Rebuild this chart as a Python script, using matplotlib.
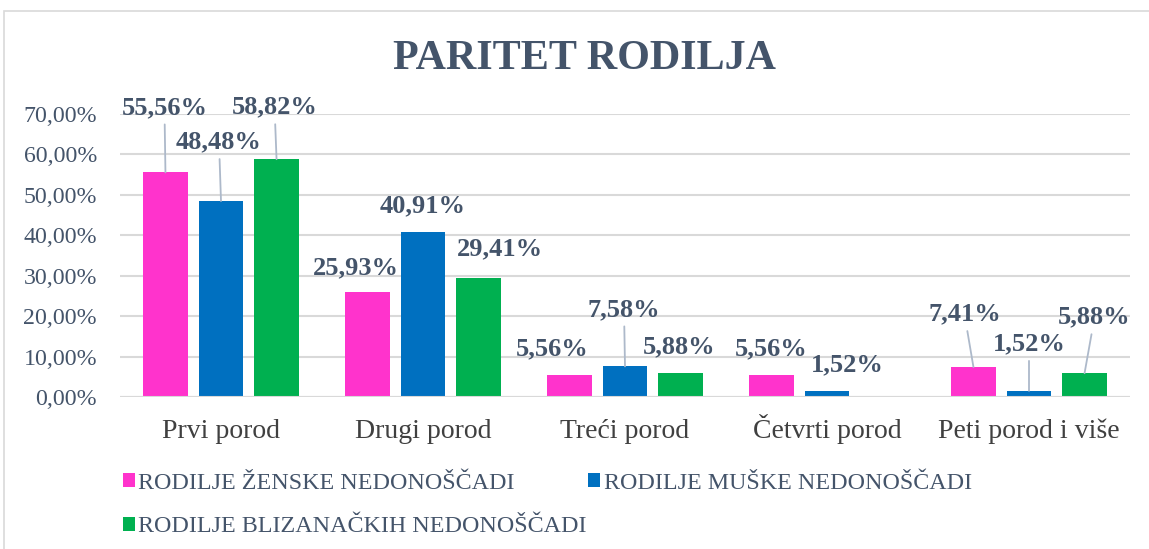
import matplotlib
matplotlib.use("Agg")
import matplotlib.pyplot as plt
from matplotlib.patches import Patch, Rectangle
import numpy as np

categories = ["Prvi porod", "Drugi porod", "Treći porod", "Četvrti porod", "Peti porod i više"]
series_names = ["RODILJE ŽENSKE NEDONOŠČADI", "RODILJE MUŠKE NEDONOŠČADI", "RODILJE BLIZANAČKIH NEDONOŠČADI"]
zenske = [55.56, 25.93, 5.56, 5.56, 7.41]
muske = [48.48, 40.91, 7.58, 1.52, 1.52]
blizanacke = [58.82, 29.41, 5.88, 0.0, 5.88]
yticks = [0, 10, 20, 30, 40, 50, 60, 70]

colors = ["#FF33CC", "#0070C0", "#00B050"]
text_color = "#44546A"
cat_color = "#404040"

# label offsets in pixels (dx, dy) relative to the bar top, and leader line flag
offsets = [
    [(-1, 65, True), (-12, 24, False), (-17, 26, False), (0, 26, False), (-9, 53, True)],
    [(-2, 59, True), (0, 26, False), (-1, 57, True), (20, 26, False), (0, 47, True)],
    [(-2, 52, True), (21, 29, False), (-1, 26, False), (0, 0, False), (10, 56, True)],
]

plt.rcParams["font.family"] = ["Liberation Serif", "DejaVu Serif"]

W, H = 1149, 549
fig = plt.figure(figsize=(W / 100, H / 100), dpi=100)
fig.patch.set_facecolor("white")
fig.patches.append(Rectangle((4 / W, -0.1), 1.2, 1 - 11 / H + 0.1, transform=fig.transFigure,
                             fill=False, edgecolor="#D9D9D9", linewidth=1.2))

ax = fig.add_axes([120 / W, 1 - 397 / H, 1010 / W, (397 - 114) / H])
x = np.arange(len(categories))
bw = 0.222
step = 0.275
all_series = [zenske, muske, blizanacke]
for i, (vals, c) in enumerate(zip(all_series, colors)):
    xs = x + (i - 1) * step
    ax.bar(xs, vals, width=bw, color=c, zorder=3)
    for j, v in enumerate(vals):
        if v == 0:
            continue
        dx, dy, lead = offsets[i][j]
        kw = {}
        if lead:
            kw["arrowprops"] = dict(arrowstyle="-", color="#ADB9CA", lw=1.3, shrinkA=2, shrinkB=0)
        ax.annotate(f"{v:.2f}%".replace(".", ","), xy=(xs[j], v), xytext=(dx, dy),
                    textcoords="offset pixels", ha="center", va="center",
                    fontsize=19, fontweight="bold", color=text_color,
                    annotation_clip=False, zorder=5, **kw)

ax.set_xlim(-0.5, len(categories) - 0.5)
ax.set_ylim(0, 70)
ax.set_yticks(yticks)
ax.set_yticklabels([f"{t:.2f}%".replace(".", ",") for t in yticks], fontsize=17.2, color=text_color)
ax.set_xticks(x)
ax.set_xticklabels(categories, fontsize=20, color=cat_color, va="baseline")
ax.tick_params(axis="both", length=0)
ax.tick_params(axis="y", pad=16.5)
ax.tick_params(axis="x", pad=29.5)
ax.grid(axis="y", color="#D9D9D9", lw=1.5, zorder=0)
for s in ax.spines.values():
    s.set_visible(False)
ax.axhline(0, color="#D9D9D9", lw=1.5, zorder=4)

fig.text(584 / W, 1 - 59 / H, "PARITET RODILJA", ha="center", va="center",
         fontsize=30.3, fontweight="bold", color=text_color)

handles = [Patch(facecolor=c) for c in colors]
order = [0, 2, 1]
leg = fig.legend([handles[k] for k in order], [series_names[k] for k in order],
                 loc="upper left", bbox_to_anchor=(113 / W, 1 - 463 / H), ncol=2,
                 frameon=False, fontsize=17.3, handlelength=0.5, handleheight=0.5,
                 handletextpad=0.15, columnspacing=0.05, labelspacing=0.95,
                 borderaxespad=0)
for t in leg.get_texts():
    t.set_color(text_color)

fig.savefig("out.png", dpi=100)
